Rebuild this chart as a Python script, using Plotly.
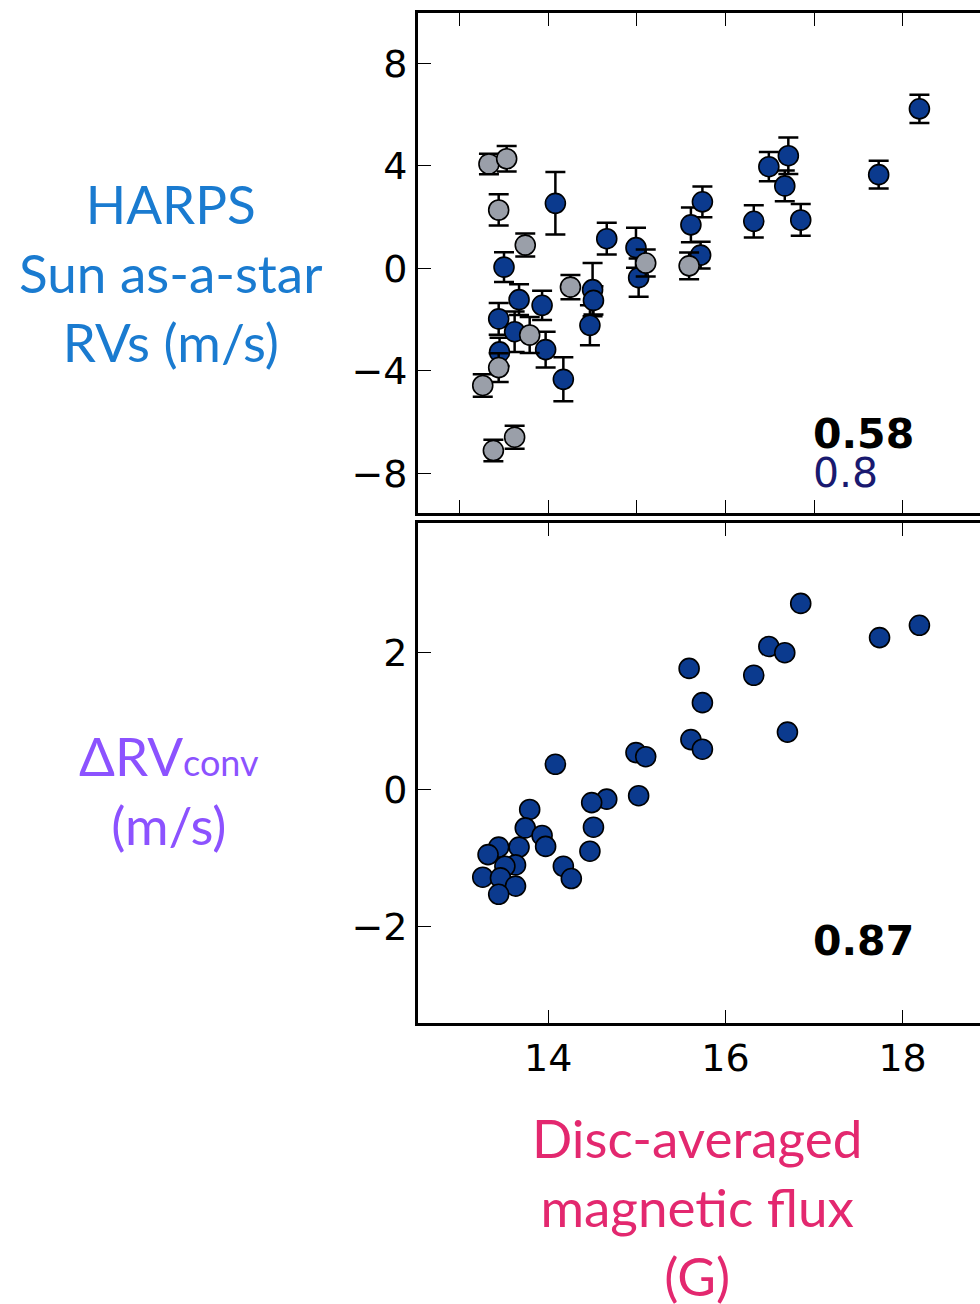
import plotly.graph_objects as go

# ---------------- data ----------------
# Top panel: HARPS Sun-as-a-star RVs (blue = used points, grey = other points)
x_blue_top = [13.50, 13.44, 13.45, 13.62, 13.67, 13.93, 13.97, 14.08, 14.17, 14.47, 14.50, 14.51, 14.66,
              14.99, 15.02, 15.61, 15.74, 15.72, 16.32, 16.49, 16.71, 16.67, 16.85, 17.73, 18.19]
y_blue_top = [0.05, -1.97, -3.26, -2.47, -1.22, -1.44, -3.17, 2.54, -4.33, -2.22, -0.83, -1.25, 1.16,
              0.81, -0.36, 1.70, 2.60, 0.52, 1.84, 3.97, 4.40, 3.22, 1.89, 3.66, 6.23]
err_blue_top = [0.58, 0.62, 0.55, 0.79, 0.60, 0.57, 0.70, 1.22, 0.86, 0.78, 1.04, 0.55, 0.62,
                0.78, 0.75, 0.68, 0.60, 0.52, 0.63, 0.57, 0.71, 0.60, 0.62, 0.54, 0.55]

x_grey_top = [13.33, 13.53, 13.44, 13.74, 14.25, 13.79, 13.44, 13.26, 13.62, 13.38, 15.10, 15.59]
y_grey_top = [4.08, 4.28, 2.28, 0.91, -0.73, -2.60, -3.87, -4.57, -6.59, -7.11, 0.21, 0.10]
err_grey_top = [0.40, 0.50, 0.61, 0.45, 0.47, 0.70, 0.56, 0.44, 0.45, 0.42, 0.53, 0.52]

# Bottom panel: convective RV shift
x_bot = [16.85, 18.19, 17.74, 16.49, 16.67, 15.59, 16.32, 15.74, 16.70, 15.61, 15.74, 14.99, 15.10,
         14.08, 15.02, 14.66, 14.49, 14.51, 14.47, 14.17, 14.26, 13.79, 13.74, 13.93, 13.97, 13.67,
         13.44, 13.32, 13.63, 13.51, 13.26, 13.46, 13.63, 13.44]
y_bot = [2.72, 2.40, 2.22, 2.09, 2.00, 1.77, 1.67, 1.27, 0.84, 0.73, 0.59, 0.54, 0.48,
         0.37, -0.09, -0.14, -0.19, -0.55, -0.90, -1.12, -1.30, -0.29, -0.56, -0.67, -0.83, -0.84,
         -0.84, -0.95, -1.10, -1.12, -1.28, -1.29, -1.41, -1.53]

# ticks
x_ticks_top = [13, 14, 15, 16, 17, 18]
x_ticks_bot = [14, 16, 18]
x_ticklabels_bot = ["14", "16", "18"]
y_ticks_top = [-8, -4, 0, 4, 8]
y_ticklabels_top = ["\u22128", "\u22124", "0", "4", "8"]
y_ticks_bot = [-2, 0, 2]
y_ticklabels_bot = ["\u22122", "0", "2"]

# correlation labels
corr_top_all = "0.58"
corr_top_blue = "0.8"
corr_bot = "0.87"

# ---------------- figure ----------------
W, H = 980, 1304
L, R, T, B = 418.3, 0, 12.7, 280.7
plot_w = W - L - R
plot_h = H - T - B
X_RANGE = [12.529, 18.874]
Y_RANGE_TOP = [-9.56, 9.97]
Y_RANGE_BOT = [-3.41, 3.89]

def px_x(px):
    return (px - L) / plot_w

def px_y(py):
    return (H - B - py) / plot_h

BLUE = "#0b3a8e"
GREY = "#9a9fa9"
TICKFONT = dict(family="DejaVu Sans", size=38, color="black")
LABELFONT = "Lato"

fig = go.Figure()

fig.add_trace(go.Scatter(
    x=x_blue_top, y=y_blue_top, mode="markers", xaxis="x", yaxis="y",
    error_y=dict(type="data", array=err_blue_top, color="black", thickness=2.5, width=10),
    marker=dict(size=20, color=BLUE, line=dict(color="black", width=1.6)),
    showlegend=False, hoverinfo="skip"))
fig.add_trace(go.Scatter(
    x=x_grey_top, y=y_grey_top, mode="markers", xaxis="x", yaxis="y",
    error_y=dict(type="data", array=err_grey_top, color="black", thickness=2.5, width=10),
    marker=dict(size=20, color=GREY, line=dict(color="black", width=1.6)),
    showlegend=False, hoverinfo="skip"))
fig.add_trace(go.Scatter(
    x=x_bot, y=y_bot, mode="markers", xaxis="x2", yaxis="y2",
    marker=dict(size=20, color=BLUE, line=dict(color="black", width=1.6)),
    showlegend=False, hoverinfo="skip"))

top_dom = [px_y(513.3), 1.0]
bot_dom = [0.0, px_y(523.3)]

common_x = dict(range=X_RANGE, showline=True, linewidth=2.7, linecolor="black", mirror="ticks",
                ticks="inside", ticklen=13, tickwidth=1.4, tickcolor="black",
                showgrid=False, zeroline=False, tickfont=TICKFONT)
common_y = dict(showline=True, linewidth=2.7, linecolor="black", mirror=False,
                ticks="inside", ticklen=13, tickwidth=1.4, tickcolor="black",
                showgrid=False, zeroline=False, tickfont=TICKFONT)
right_y = dict(side="right", showline=False, ticks="inside", ticklen=7, tickwidth=1.4,
               tickcolor="black", showticklabels=False, showgrid=False, zeroline=False)

fig.update_layout(
    width=W, height=H,
    margin=dict(l=L, r=R, t=T, b=B, pad=0),
    paper_bgcolor="white", plot_bgcolor="white",
    xaxis=dict(domain=[0, 1], anchor="y", tickvals=x_ticks_top, showticklabels=False, **common_x),
    yaxis=dict(domain=top_dom, anchor="x", range=Y_RANGE_TOP, tickvals=y_ticks_top,
               ticktext=y_ticklabels_top, **common_y),
    xaxis2=dict(domain=[0, 1], anchor="y2", tickvals=x_ticks_bot, ticktext=x_ticklabels_bot,
                **common_x),
    yaxis2=dict(domain=bot_dom, anchor="x2", range=Y_RANGE_BOT, tickvals=y_ticks_bot,
                ticktext=y_ticklabels_bot, **common_y),
    yaxis3=dict(overlaying="y", anchor="x", range=Y_RANGE_TOP, tickvals=y_ticks_top, **right_y),
    yaxis4=dict(overlaying="y2", anchor="x2", range=Y_RANGE_BOT, tickvals=y_ticks_bot, **right_y),
)

annos = [
    dict(text=corr_top_all, x=px_x(811), y=px_y(434), xanchor="left", yanchor="middle",
         font=dict(family="DejaVu Sans", size=41, color="black", weight="bold")),
    dict(text=corr_top_blue, x=px_x(811), y=px_y(473), xanchor="left", yanchor="middle",
         font=dict(family="DejaVu Sans", size=41, color="#191970")),
    dict(text=corr_bot, x=px_x(811), y=px_y(941), xanchor="left", yanchor="middle",
         font=dict(family="DejaVu Sans", size=41, color="black", weight="bold")),
    dict(text="HARPS<br>Sun as-a-star<br>RVs (m/s)", x=px_x(171), y=px_y(272),
         xanchor="center", yanchor="middle", align="center",
         font=dict(family=LABELFONT, size=53, color="#1a7bd0")),
    dict(text="\u0394RV<span style='font-size:36px'>conv</span><br>(m/s)", x=px_x(169), y=px_y(790),
         xanchor="center", yanchor="middle", align="center",
         font=dict(family=LABELFONT, size=53, color="#8c52ff")),
    dict(text="Disc-averaged<br>magnetic flux<br>(G)", x=px_x(697), y=px_y(1207),
         xanchor="center", yanchor="middle", align="center",
         font=dict(family=LABELFONT, size=53, color="#e3286f")),
]
for a in annos:
    a.update(xref="paper", yref="paper", showarrow=False)
fig.update_layout(annotations=annos)

fig.write_html("out.html")
